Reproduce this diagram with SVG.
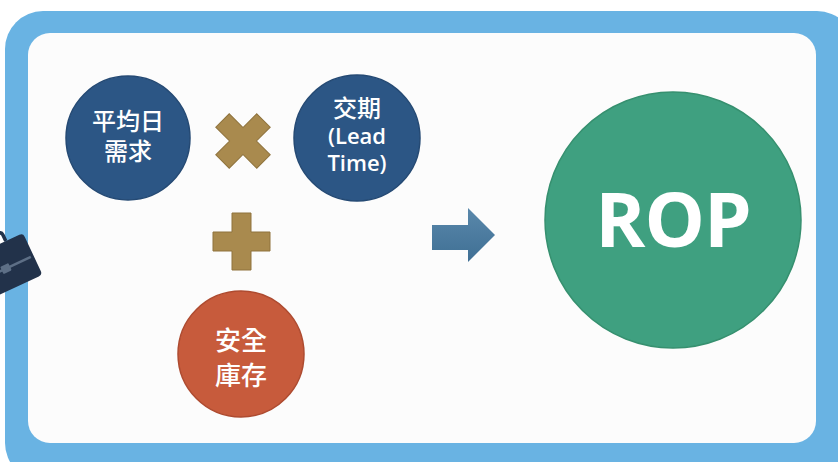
<svg xmlns="http://www.w3.org/2000/svg" width="838" height="462" viewBox="0 0 838 462">
  <defs>
    <style>
      .cjk { font-family: "Noto Sans CJK TC", "Noto Sans CJK SC", sans-serif; font-weight: 500; fill: #ffffff; text-anchor: middle; }
      .lat { font-family: "Open Sans", "Noto Sans", sans-serif; font-weight: 600; fill: #ffffff; text-anchor: middle; }
      .navy { fill: #2c5685; stroke: #254a74; stroke-width: 1.5; }
      .op { fill: #a98a4e; stroke: #8f733d; stroke-width: 1; }
    </style>
    <linearGradient id="arrowGrad" x1="0" y1="0" x2="0" y2="1">
      <stop offset="0" stop-color="#5a88ab"/>
      <stop offset="1" stop-color="#3f6f94"/>
    </linearGradient>
  </defs>

  <!-- frame -->
  <rect x="0" y="0" width="838" height="462" fill="#ffffff"/>
  <rect x="5" y="11" width="850" height="470" rx="38" fill="#69b3e3"/>
  <rect x="28" y="33" width="788" height="410" rx="22" fill="#fcfcfc"/>

  <!-- briefcase (partially visible) -->
  <g id="briefcase" transform="translate(23,233) rotate(-25)">
    <path d="M-42,0 L-42,-7 Q-42,-10 -39,-10 L-22,-10 Q-19,-10 -19,-7 L-19,0" fill="none" stroke="#22324a" stroke-width="3.5"/>
    <rect x="-70" y="0" width="70" height="46" rx="4" fill="#22324a"/>
    <line x1="-70" y1="25" x2="-3" y2="25" stroke="#5d6f86" stroke-width="2.5"/>
    <rect x="-35" y="21" width="9" height="8" rx="1" fill="#5d6f86"/>
  </g>

  <!-- nodes -->
  <g id="daily-demand">
    <circle class="navy" cx="128" cy="138" r="62"/>
    <text class="cjk" font-size="24"><tspan x="128" y="130">平均日</tspan><tspan x="128" y="160">需求</tspan></text>
  </g>

  <g id="times-sign">
    <g transform="translate(243,141) rotate(45)">
      <path class="op" d="M-9.5,-29 H9.5 V-9.5 H29 V9.5 H9.5 V29 H-9.5 V9.5 H-29 V-9.5 H-9.5 Z"/>
    </g>
  </g>

  <g id="lead-time">
    <circle class="navy" cx="357" cy="138" r="63"/>
    <text font-size="22"><tspan class="cjk" x="357" y="117" font-size="24">交期</tspan><tspan class="lat" x="357" y="144">(Lead</tspan><tspan class="lat" x="357" y="171">Time)</tspan></text>
  </g>

  <g id="plus-sign">
    <path class="op" d="M232,213 H251 V232 H270 V251 H251 V270 H232 V251 H213 V232 H232 Z"/>
  </g>

  <g id="safety-stock">
    <circle cx="241" cy="354" r="63" fill="#c75b3c" stroke="#ae4b30" stroke-width="1.5"/>
    <text class="cjk" font-size="26"><tspan x="241" y="350">安全</tspan><tspan x="241" y="385">庫存</tspan></text>
  </g>

  <g id="connectors">
    <path d="M432,225 H468 V208 L495,235 L468,262 V250 H432 Z" fill="url(#arrowGrad)"/>
  </g>

  <g id="rop">
    <circle cx="673" cy="220" r="128" fill="#3fa080" stroke="#36906f" stroke-width="1.5"/>
    <text x="673" y="247" font-family="Open Sans, Liberation Sans, sans-serif" font-weight="bold" font-size="76" fill="#ffffff" text-anchor="middle" letter-spacing="-1">ROP</text>
  </g>
</svg>
